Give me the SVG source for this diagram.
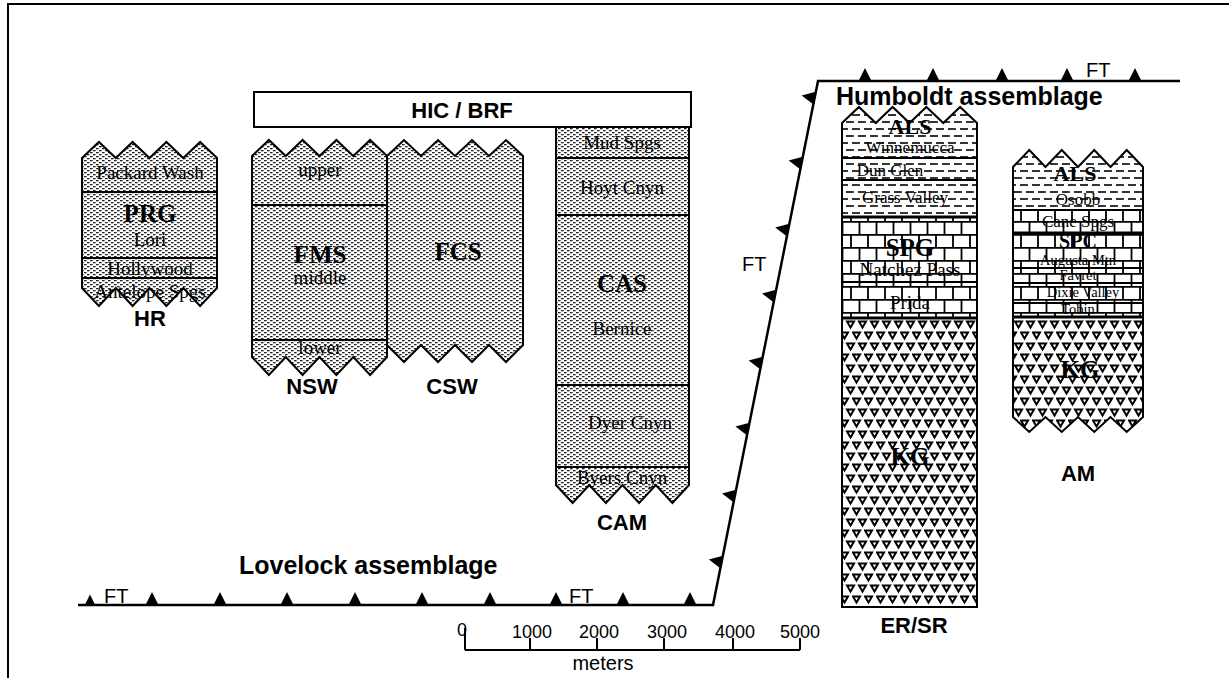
<svg xmlns="http://www.w3.org/2000/svg" width="1229" height="678" viewBox="0 0 1229 678">
<style>
.col{stroke:#000;stroke-width:2;stroke-linejoin:miter}
.st{fill:url(#stip)}
.sh{fill:url(#shale)}
.ls{fill:url(#lime)}
.gr{fill:url(#gran)}
.sep{stroke:#000;stroke-width:2;fill:none}
.sep2{stroke:#000;stroke-width:3;fill:none}
.u{font-family:"Liberation Serif","Times New Roman",serif;font-weight:bold;font-size:25px;text-anchor:middle}
.s{font-family:"Liberation Serif","Times New Roman",serif;font-size:19px;text-anchor:middle}
.s2{font-family:"Liberation Serif","Times New Roman",serif;font-size:17px;text-anchor:middle}
.s3{font-family:"Liberation Serif","Times New Roman",serif;font-size:14.5px;text-anchor:middle}
.u2{font-family:"Liberation Serif","Times New Roman",serif;font-weight:bold;font-size:22px;text-anchor:middle}
.u3{font-family:"Liberation Serif","Times New Roman",serif;font-weight:bold;font-size:20px;text-anchor:middle}
.n{font-family:"Liberation Sans",Arial,sans-serif;font-weight:bold;font-size:22px;text-anchor:middle}
.ft{font-family:"Liberation Sans",Arial,sans-serif;font-size:20px}
.asm{font-family:"Liberation Sans",Arial,sans-serif;font-weight:bold;font-size:25px}
.num{font-family:"Liberation Sans",Arial,sans-serif;font-size:18px}
.flt{fill:none;stroke:#000;stroke-width:2.5}
</style>
<defs>
<pattern id="stip" width="6" height="4" patternUnits="userSpaceOnUse">
<rect width="6" height="4" fill="#fff"/>
<rect x="0" y="0" width="2.6" height="1.3" fill="#222"/>
<rect x="3" y="2" width="2.6" height="1.3" fill="#222"/>
</pattern>
<pattern id="shale" width="12" height="14" patternUnits="userSpaceOnUse">
<rect width="12" height="14" fill="#fff"/>
<line x1="0" y1="3" x2="8" y2="3" stroke="#000" stroke-width="1.6"/>
<line x1="6" y1="10" x2="12" y2="10" stroke="#000" stroke-width="1.6"/>
<line x1="0" y1="10" x2="2" y2="10" stroke="#000" stroke-width="1.6"/>
</pattern>
<pattern id="lime" width="34" height="26" patternUnits="userSpaceOnUse">
<rect width="34" height="26" fill="#fff"/>
<path d="M0,0.8H34M0,13.8H34M1,0V13M18,0V13M9.5,13V26M26.5,13V26" stroke="#000" stroke-width="1.8" fill="none"/>
</pattern>
<pattern id="gran" width="12" height="22" patternUnits="userSpaceOnUse">
<rect width="12" height="22" fill="#fff"/>
<path d="M1,2.5H8L4.5,8.5Z M7,13.5H14L10.5,19.5Z M-5,13.5H2L-1.5,19.5Z" fill="#fff" stroke="#000" stroke-width="2"/>
</pattern>
<path id="tooth" d="M-6.5,0 L6.5,0 L0,-13 Z" fill="#000"/>
</defs>
<rect width="1229" height="678" fill="#fff"/>
<path d="M8,678 V4 H1229" fill="none" stroke="#000" stroke-width="2"/>

<g id="connectors">
<path class="flt" d="M78,605 H713 L818,81 H1180"/>
<use href="#tooth" transform="translate(90,605) scale(0.8)"/>
<use href="#tooth" x="152" y="605"/>
<use href="#tooth" x="220" y="605"/>
<use href="#tooth" x="287" y="605"/>
<use href="#tooth" x="355" y="605"/>
<use href="#tooth" x="422" y="605"/>
<use href="#tooth" x="490" y="605"/>
<use href="#tooth" x="556" y="605"/>
<use href="#tooth" x="623" y="605"/>
<use href="#tooth" x="690" y="605"/>
<use href="#tooth" x="865" y="81"/>
<use href="#tooth" x="933" y="81"/>
<use href="#tooth" x="1002" y="81"/>
<use href="#tooth" x="1067" y="81"/>
<use href="#tooth" x="1135" y="81"/>
<use href="#tooth" transform="translate(814.4,98) rotate(-78.7)"/>
<use href="#tooth" transform="translate(801.4,163) rotate(-78.7)"/>
<use href="#tooth" transform="translate(788,230) rotate(-78.7)"/>
<use href="#tooth" transform="translate(774.8,296) rotate(-78.7)"/>
<use href="#tooth" transform="translate(761.4,363) rotate(-78.7)"/>
<use href="#tooth" transform="translate(748.2,429) rotate(-78.7)"/>
<use href="#tooth" transform="translate(734.8,496) rotate(-78.7)"/>
<use href="#tooth" transform="translate(721.6,562) rotate(-78.7)"/>
<text class="ft" x="104" y="603">FT</text>
<text class="ft" x="569" y="603">FT</text>
<text class="ft" x="742" y="271">FT</text>
<text class="ft" x="1086" y="77">FT</text>
<text class="asm" x="239" y="574">Lovelock assemblage</text>
<text class="asm" x="836" y="105">Humboldt assemblage</text>
</g>

<g id="scale">
<path d="M465,650 H800 M465,628 V650 M530,638 V650 M597,638 V650 M664,638 V650 M733,638 V650 M800,638 V650" stroke="#000" stroke-width="2" fill="none"/>
<text class="num" x="462" y="636" text-anchor="middle">0</text>
<text class="num" x="532" y="638" text-anchor="middle">1000</text>
<text class="num" x="599" y="638" text-anchor="middle">2000</text>
<text class="num" x="667" y="638" text-anchor="middle">3000</text>
<text class="num" x="735" y="638" text-anchor="middle">4000</text>
<text class="num" x="800" y="638" text-anchor="middle">5000</text>
<text class="ft" x="603" y="670" text-anchor="middle">meters</text>
</g>

<g id="HR">
<polygon class="col st" points="82,158 98.9,142 115.8,158 132.6,142 149.5,158 166.4,142 183.3,158 200.1,142 217,158 217,288 200.1,306 183.3,288 166.4,306 149.5,288 132.6,306 115.8,288 98.9,306 82,288"/>
<path class="sep" d="M82,192H217M82,258H217M82,278H217"/>
<text class="s" x="150" y="179">Packard Wash</text>
<text class="u" x="150" y="222">PRG</text>
<text class="s" x="150" y="246">Lori</text>
<text class="s" x="150" y="275">Hollywood</text>
<text class="s" x="150" y="298">Antelope Spgs</text>
<text class="n" x="150" y="326">HR</text>
</g>

<g id="HIC">
<rect x="254" y="92" width="437" height="35" fill="#fff" stroke="#000" stroke-width="2"/>
<text class="n" x="462" y="118">HIC / BRF</text>
</g>

<g id="NSW">
<polygon class="col st" points="252,156 268.9,140 285.8,156 302.6,140 319.5,156 336.4,140 353.3,156 370.1,140 387,156 387,357 370.1,375 353.3,357 336.4,375 319.5,357 302.6,375 285.8,357 268.9,375 252,357"/>
<path class="sep" d="M252,205H387M252,340H387"/>
<text class="s" x="320" y="176">upper</text>
<text class="u" x="320" y="263">FMS</text>
<text class="s" x="320" y="284">middle</text>
<text class="s" x="320" y="354">lower</text>
<text class="n" x="312" y="394">NSW</text>
</g>

<g id="CSW">
<polygon class="col st" points="387,156 404,140 421,156 438,140 455,156 472,140 489,156 506,140 523,156 523,345 506,362 489,345 472,362 455,345 438,362 421,345 404,362 387,345"/>
<text class="u" x="458" y="260">FCS</text>
<text class="n" x="452" y="394">CSW</text>
</g>

<g id="CAM">
<polygon class="col st" points="556,127 689,127 689,485 672.4,503 655.8,485 639.1,503 622.5,485 605.9,503 589.3,485 572.6,503 556,485"/>
<path class="sep" d="M556,158H689M556,215H689M556,385H689M556,467H689"/>
<text class="s" x="622" y="149">Mud Spgs</text>
<text class="s" x="622" y="194">Hoyt Cnyn</text>
<text class="u" x="622" y="292">CAS</text>
<text class="s" x="622" y="335">Bernice</text>
<text class="s" x="630" y="429">Dyer Cnyn</text>
<text class="s" x="622" y="484">Byers Cnyn</text>
<text class="n" x="622" y="530">CAM</text>
</g>

<g id="ERSR">
<polygon class="sh" points="842,123 858.9,107 875.8,123 892.6,107 909.5,123 926.4,107 943.3,123 960.1,107 977,123 977,217 842,217"/>
<rect class="ls" x="842" y="217" width="135" height="101"/>
<rect class="gr" x="842" y="318" width="135" height="289"/>
<polygon class="col" fill="none" points="842,123 858.9,107 875.8,123 892.6,107 909.5,123 926.4,107 943.3,123 960.1,107 977,123 977,607 842,607"/>
<path class="sep" d="M842,158H977M842,180H977M842,282H977"/>
<path class="sep2" d="M842,217H977M842,318H977"/>
<text class="u2" x="910" y="134">ALS</text>
<text class="s2" x="910" y="153">Winnemucca</text>
<text class="s2" x="890" y="176">Dun Glen</text>
<text class="s2" x="905" y="203">Grass Valley</text>
<text class="u" x="910" y="256">SPG</text>
<text class="s" x="910" y="276">Natchez Pass</text>
<text class="s" x="910" y="309">Prida</text>
<text class="u" x="910" y="465">KG</text>
<text class="n" x="914" y="633">ER/SR</text>
</g>

<g id="AM">
<polygon class="sh" points="1013,167 1029.25,150 1045.5,167 1061.75,150 1078,167 1094.25,150 1110.5,167 1126.75,150 1143,167 1143,210 1013,210"/>
<rect class="ls" x="1013" y="210" width="130" height="107"/>
<polygon class="gr" points="1013,317 1143,317 1143,417 1126.75,432 1110.5,417 1094.25,432 1078,417 1061.75,432 1045.5,417 1029.25,432 1013,417"/>
<polygon class="col" fill="none" points="1013,167 1029.25,150 1045.5,167 1061.75,150 1078,167 1094.25,150 1110.5,167 1126.75,150 1143,167 1143,417 1126.75,432 1110.5,417 1094.25,432 1078,417 1061.75,432 1045.5,417 1029.25,432 1013,417"/>
<path class="sep" d="M1013,210H1143M1013,268H1143M1013,283H1143M1013,303H1143"/>
<path class="sep2" d="M1013,233H1143M1013,317H1143"/>
<text class="u2" x="1075" y="181">ALS</text>
<text class="s2" x="1078" y="205">Osobb</text>
<text class="s2" x="1078" y="227">Cane Spgs</text>
<text class="u3" x="1078" y="248">SPC</text>
<text class="s3" x="1078" y="265">Augusta Mtn</text>
<text class="s3" x="1078" y="280">Favret</text>
<text class="s3" x="1083" y="297">Dixie Valley</text>
<text class="s3" x="1078" y="314">Tobin</text>
<text class="u" x="1080" y="378">KG</text>
<text class="n" x="1078" y="481">AM</text>
</g>
</svg>
